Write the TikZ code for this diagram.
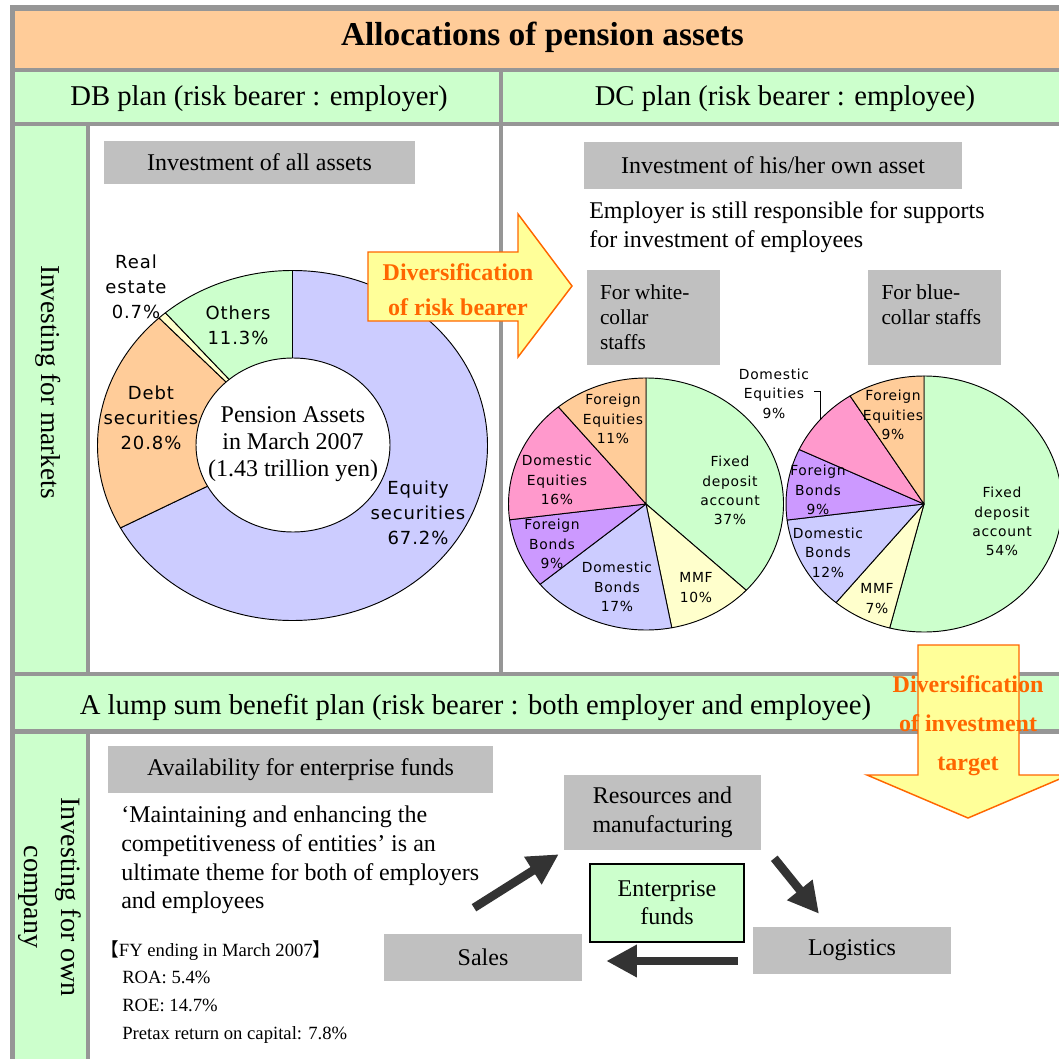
\documentclass[tikz,border=0pt]{standalone}
\usepackage{fontspec}
\setmainfont{Liberation Serif}
\newfontfamily\piefont[LetterSpace=5]{DejaVu Sans}
\newfontfamily\cjkfont{Noto Sans CJK JP}
\usetikzlibrary{arrows.meta,calc}

\definecolor{gridgray}{RGB}{150,150,150}
\definecolor{titlefill}{HTML}{FFCC99}
\definecolor{bandfill}{HTML}{CCFFCC}
\definecolor{boxgray}{HTML}{C0C0C0}
\definecolor{lavender}{HTML}{CCCCFF}
\definecolor{rosepink}{HTML}{FF99CC}
\definecolor{lilac}{HTML}{CC99FF}
\definecolor{paleyellow}{HTML}{FFFFCC}
\definecolor{arrowfill}{HTML}{FFFF99}
\definecolor{arrowline}{HTML}{FF6600}
\definecolor{flowdark}{HTML}{333333}

\newcommand\setfs[2]{\fontsize{#1}{#2}\selectfont}
% one elliptical pie slice: cx, cy, rx, ry, start angle, end angle, colour
\newcommand\pieslice[7]{%
  \filldraw[fill=#7,draw=black,line width=0.7pt,line join=round]
    (#1,#2) -- ++({#3*cos(#5)},{#4*sin(#5)})
    arc[start angle=#5,end angle=#6,x radius=#3,y radius=#4] -- cycle;}

\begin{document}
\begin{tikzpicture}[x=0.75pt,y=-0.75pt,
  every node/.style={inner sep=0pt},
  box/.style 2 args={minimum width=#1*0.75pt, minimum height=#2*0.75pt},
  graybox/.style={fill=boxgray, align=center, font=\setfs{18}{21.75}},
  bodytext/.style={font=\setfs{18}{21.6}},
  headtext/.style={font=\setfs{21.5}{25}},
  pielabel/.style={font=\piefont\setfs{10.4}{14.5}, align=center},
  ringlabel/.style={font=\piefont\setfs{13.5}{18.75}, align=center},
  divtext/.style={font=\bfseries\setfs{18}{26.25}, text=arrowline, align=center},
  flowarrow/.style={draw=flowdark, line width=6.4pt, -{Triangle[length=23pt,width=23pt]}},
  bigarrow/.style={fill=arrowfill, draw=arrowline, line width=1.1pt, line join=miter}]

\useasboundingbox (0,0) rectangle (1059,1059);
\clip (0,0) rectangle (1059,1059);

% ---- table frame and cells ----
\fill[gridgray] (10,5) rectangle (1059,1059);
\fill[titlefill] (15,11) rectangle (1059,68);
\fill[bandfill] (15,72) rectangle (499,122);
\fill[bandfill] (503,72) rectangle (1059,122);
\fill[bandfill] (15,126) rectangle (86,672);
\fill[white] (90,126) rectangle (499,672);
\fill[white] (503,126) rectangle (1059,672);
\fill[bandfill] (15,676) rectangle (1059,729);
\fill[bandfill] (15,734) rectangle (86,1059);
\fill[white] (90,734) rectangle (1059,1059);

% ---- headings ----
\node[anchor=base, font=\bfseries\setfs{25}{30}] (title) at (542.5,46) {Allocations of pension assets};
\node[anchor=base, headtext] (dbhead) at (259,106) {DB plan (risk bearer : employer)};
\node[anchor=base, headtext] (dchead) at (785,106) {DC plan (risk bearer : employee)};
\node[anchor=base, headtext] (lumphead) at (475.5,714) {A lump sum benefit plan (risk bearer : both employer and employee)};
\node[rotate=-90, font=\setfs{20.5}{24}] (invmarkets) at (48,382) {Investing for markets};
\node[rotate=-90, align=center, font=\setfs{21}{28.2}] (invown) at (50,897) {Investing for own\\company};

% ---- DB plan: ring chart ----
\node[graybox, box={311}{43}] (allassets) at (259.5,162.5) {Investment of all assets};
\pieslice{292.5}{445.5}{195}{175}{-90}{151.92}{lavender}
\pieslice{292.5}{445.5}{195}{175}{151.92}{226.8}{titlefill}
\pieslice{292.5}{445.5}{195}{175}{226.8}{229.32}{paleyellow}
\pieslice{292.5}{445.5}{195}{175}{229.32}{270}{bandfill}
\filldraw[fill=white,draw=black,line width=0.7pt] (293,445) ellipse [x radius=97, y radius=87];
\node[align=center, font=\setfs{18}{20.25}] (ringcentre) at (293,444.5) {Pension Assets\\in March 2007\\(1.43 trillion yen)};
\node[ringlabel] (lreal) at (136,286.5) {Real\\estate\\0.7\%};
\node[ringlabel] (lothers) at (238,325) {Others\\11.3\%};
\node[ringlabel] (ldebt) at (151,418) {Debt\\securities\\20.8\%};
\node[ringlabel] (lequity) at (418,513) {Equity\\securities\\67.2\%};

% ---- DC plan ----
\node[graybox, box={378}{47}] (ownasset) at (773,165.5) {Investment of his/her own asset};
\node[anchor=north west, align=left, font=\setfs{18}{21.75}] (support) at (589,201)
  {Employer is still responsible for supports\\for investment of employees};
\node[fill=boxgray, box={133}{95}] (whitebox) at (653.5,317.5) {};
\node[anchor=north west, align=left, font=\setfs{16}{18.75}] (whitetext) at ($(whitebox.north west)+(13,15)$) {For white-\\collar\\staffs};
\node[fill=boxgray, box={133}{95}] (bluebox) at (934,317.5) {};
\node[anchor=north west, align=left, font=\setfs{16}{18.75}] (bluetext) at ($(bluebox.north west)+(14,15)$) {For blue-\\collar staffs};

% white-collar pie
\pieslice{646}{504}{137.5}{126}{-90}{43.2}{bandfill}
\pieslice{646}{504}{137.5}{126}{43.2}{79.2}{paleyellow}
\pieslice{646}{504}{137.5}{126}{79.2}{140.4}{lavender}
\pieslice{646}{504}{137.5}{126}{140.4}{172.8}{lilac}
\pieslice{646}{504}{137.5}{126}{172.8}{230.4}{rosepink}
\pieslice{646}{504}{137.5}{126}{230.4}{270}{titlefill}
\node[pielabel] (wfe) at (613,419) {Foreign\\Equities\\11\%};
\node[pielabel] (wde) at (557,480) {Domestic\\Equities\\16\%};
\node[pielabel] (wfb) at (552,544) {Foreign\\Bonds\\9\%};
\node[pielabel] (wdb) at (617,587) {Domestic\\Bonds\\17\%};
\node[pielabel] (wmmf) at (696,587.5) {MMF\\10\%};
\node[pielabel] (wfd) at (730,490.5) {Fixed\\deposit\\account\\37\%};

% blue-collar pie
\pieslice{924}{504}{138}{128}{-90}{104.4}{bandfill}
\pieslice{924}{504}{138}{128}{104.4}{129.6}{paleyellow}
\pieslice{924}{504}{138}{128}{129.6}{172.8}{lavender}
\pieslice{924}{504}{138}{128}{172.8}{205.2}{lilac}
\pieslice{924}{504}{138}{128}{205.2}{237.6}{rosepink}
\pieslice{924}{504}{138}{128}{237.6}{270}{titlefill}
\node[pielabel] (bfe) at (893,415) {Foreign\\Equities\\9\%};
\node[pielabel] (bde) at (774,393.5) {Domestic\\Equities\\9\%};
\node[pielabel] (bfb) at (818,490) {Foreign\\Bonds\\9\%};
\node[pielabel] (bdb) at (828,552.5) {Domestic\\Bonds\\12\%};
\node[pielabel] (bmmf) at (877,598.5) {MMF\\7\%};
\node[pielabel] (bfd) at (1002,521.5) {Fixed\\deposit\\account\\54\%};
\coordinate (bdeedge) at (820,419);
\draw[line width=0.6pt] ($(bde.east)+(5,-2.5)$) -| (bdeedge);

% ---- lump sum plan ----
\node[graybox, box={385}{47}] (avail) at (300.5,769.5) {Availability for enterprise funds};
\node[anchor=north west, align=left, font=\setfs{18}{21.5}] (theme) at (121,806)
  {‘Maintaining and enhancing the\\competitiveness of entities’ is an\\ultimate theme for both of employers\\and employees};
\node[anchor=north west, align=left, font=\setfs{14}{20.8}] (fy) at (100,940)
  {{\cjkfont 【}FY ending in March 2007{\cjkfont 】}\\
   \hspace*{16.5pt}ROA: 5.4\%\\
   \hspace*{16.5pt}ROE: 14.7\%\\
   \hspace*{16.5pt}Pretax return on capital: 7.8\%};

\node[graybox, box={197}{75}] (resources) at (662.5,812.5) {Resources and\\manufacturing};
\node[fill=bandfill, draw=black, line width=1.1pt, box={154}{78}, align=center, font=\setfs{18}{21}] (funds) at (667,903) {Enterprise\\funds};
\node[graybox, box={198}{47}] (sales) at (483,957.5) {Sales};
\node[graybox, box={198}{47}] (logistics) at (852,950.5) {Logistics};

\draw[flowarrow] ($(sales.north)+(-9,-26)$) -- ($(resources.south west)+(-5,4)$);
\draw[flowarrow] ($(resources.south east)+(13,8)$) -- ($(logistics.north)+(-33,-13)$);
\draw[flowarrow] ($(logistics.west)+(-15,10.5)$) -- ($(sales.east)+(24,3.5)$);

% ---- diversification arrows ----
\draw[bigarrow] (368,252) -- (518,252) -- (518,214) -- (572,286) -- (518,357) -- (518,321) -- (368,321) -- cycle;
\node[divtext] (divrisk) at (458,289.5) {Diversification\\of risk bearer};
\draw[bigarrow] (918,645) -- (1019,645) -- (1019,775) -- (1069,775) -- (968,818) -- (867,775) -- (918,775) -- cycle;
\node[divtext, font=\bfseries\setfs{18}{29.25}] (divinv) at (968,726) {Diversification\\of investment\\target};

\end{tikzpicture}
\end{document}
